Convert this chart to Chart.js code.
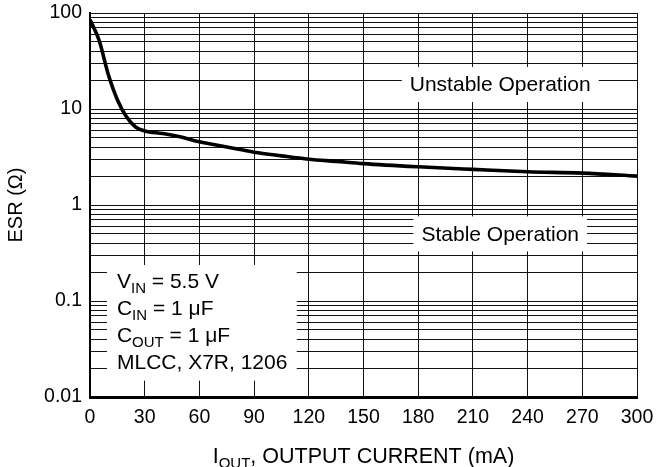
<!DOCTYPE html>
<html><head><meta charset="utf-8">
<script src="https://cdn.jsdelivr.net/npm/chart.js@4"></script>
<style>html,body{margin:0;padding:0;background:#fff}#wrap{width:661px;height:467px}</style>
</head><body><div id="wrap"><canvas id="c" width="661" height="467"></canvas></div>
<script>
// ---- data ----
const currents = [0, 5, 10, 15, 20, 25, 30, 40, 50, 60, 75, 90, 105, 120, 135, 150, 180, 210, 240, 270, 300];
const esr      = [85, 52, 23, 12.5, 8.3, 6.5, 5.9, 5.55, 5.1, 4.55, 4.02, 3.55, 3.25, 3.0, 2.85, 2.7, 2.5, 2.35, 2.22, 2.15, 2.0];
const xTicks = [0, 30, 60, 90, 120, 150, 180, 210, 240, 270, 300];
const yMajor = [0.01, 0.1, 1, 10, 100];
const yMajorLabels = ['0.01', '0.1', '1', '10', '100'];
const regionLabels = ['Unstable Operation', 'Stable Operation'];
const regionAnchors = [[225, 18], [225, 0.5]];           // [current, ESR] centre of each label
const conditionLines = [
  [['V', 0], ['IN', 1], [' = 5.5 V', 0]],
  [['C', 0], ['IN', 1], [' = 1 \u03BCF', 0]],
  [['C', 0], ['OUT', 1], [' = 1 \u03BCF', 0]],
  [['MLCC, X7R, 1206', 0]]
];
const conditionBox = [9.3, 0.237, 113.4, 0.0148];           // x0, yTop, x1, yBottom in data units
const xTitle = [['I', 0], ['OUT', 1], [', OUTPUT CURRENT (mA)', 0]];
const yTitle = 'ESR (\u03A9)';

const FONT = '"Liberation Sans", Arial, Helvetica, sans-serif';

function drawRich(ctx, parts, x, y, size, subSize, subDy, align) {
  let total = 0;
  parts.forEach(([t, s]) => { ctx.font = (s ? subSize : size) + 'px ' + FONT; total += ctx.measureText(t).width; });
  let cx = align === 'center' ? x - total / 2 : x;
  ctx.textAlign = 'left';
  ctx.textBaseline = 'alphabetic';
  parts.forEach(([t, s]) => {
    ctx.font = (s ? subSize : size) + 'px ' + FONT;
    ctx.fillText(t, cx, y + (s ? subDy : 0));
    cx += ctx.measureText(t).width;
  });
}

function noPad(s) { s.paddingTop = 0; s.paddingBottom = 0; s.paddingLeft = 0; s.paddingRight = 0; }

const annot = {
  id: 'annot',
  beforeDatasetsDraw(chart) {
    const ctx = chart.ctx, xs = chart.scales.x, ys = chart.scales.y;
    ctx.save();
    regionLabels.forEach((t, i) => {
      const px = xs.getPixelForValue(regionAnchors[i][0]);
      const py = ys.getPixelForValue(regionAnchors[i][1]);
      ctx.font = '21px ' + FONT;
      const w = ctx.measureText(t).width;
      ctx.fillStyle = '#fff';
      ctx.fillRect(px - w / 2 - 8, py - 17.5, w + 16, 35);
      ctx.fillStyle = '#000';
      ctx.textAlign = 'center';
      ctx.textBaseline = 'middle';
      ctx.fillText(t, px, py + 1);
    });
    const bx0 = xs.getPixelForValue(conditionBox[0]);
    const by0 = ys.getPixelForValue(conditionBox[1]);
    const bx1 = xs.getPixelForValue(conditionBox[2]);
    const by1 = ys.getPixelForValue(conditionBox[3]);
    ctx.fillStyle = '#fff';
    ctx.fillRect(bx0, by0, bx1 - bx0, by1 - by0);
    ctx.fillStyle = '#000';
    conditionLines.forEach((line, i) => {
      drawRich(ctx, line, bx0 + 10, by0 + 23 + i * 27, 21, 15, 5, 'left');
    });
    ctx.restore();
  },
  afterDraw(chart) {
    const ctx = chart.ctx, a = chart.chartArea;
    ctx.save();
    ctx.fillStyle = '#000';
    drawRich(ctx, xTitle, (a.left + a.right) / 2, 463, 21.5, 15, 4.5, 'center');
    ctx.translate(22, (a.top + a.bottom) / 2);
    ctx.rotate(-Math.PI / 2);
    ctx.font = '20px ' + FONT;
    ctx.textAlign = 'center';
    ctx.textBaseline = 'alphabetic';
    ctx.fillText(yTitle, 0, 0);
    ctx.restore();
  }
};

const points = currents.map((c, i) => ({ x: c, y: esr[i] }));

new Chart(document.getElementById('c'), {
  type: 'line',
  data: { datasets: [{ data: points, borderColor: '#000', borderWidth: 3.6, pointRadius: 0, cubicInterpolationMode: 'monotone', fill: false }] },
  options: {
    responsive: false,
    devicePixelRatio: 1,
    animation: false,
    layout: { padding: { left: 0, top: 13, right: 24, bottom: 0 } },
    plugins: { legend: { display: false }, tooltip: { enabled: false } },
    scales: {
      x: {
        type: 'linear', min: 0, max: 300,
        afterBuildTicks: s => { s.ticks = xTicks.map(v => ({ value: v })); },
        afterFit: s => { s.height = 70; noPad(s); },
        ticks: { color: '#000', font: { family: FONT, size: 19.5 }, padding: 9, maxRotation: 0, autoSkip: false },
        grid: { color: '#111', lineWidth: 1, drawTicks: false },
        border: { display: true, color: '#000', width: 3 }
      },
      y: {
        type: 'logarithmic', min: 0.01, max: 100,
        afterBuildTicks: s => {
          const t = [];
          for (let d = 0; d < yMajor.length - 1; d++) for (let m = 1; m <= 9; m++) t.push({ value: yMajor[d] * m });
          t.push({ value: yMajor[yMajor.length - 1] });
          s.ticks = t;
        },
        afterFit: s => { s.width = 90; noPad(s); },
        ticks: {
          color: '#000', font: { family: FONT, size: 19.5 }, padding: 8, autoSkip: false,
          callback: v => { const i = yMajor.findIndex(m => Math.abs(m - v) / m < 1e-6); return i >= 0 ? yMajorLabels[i] : ''; }
        },
        grid: { color: '#111', lineWidth: 1, drawTicks: false },
        border: { display: true, color: '#000', width: 2 }
      }
    }
  },
  plugins: [annot]
});
</script></body></html>
